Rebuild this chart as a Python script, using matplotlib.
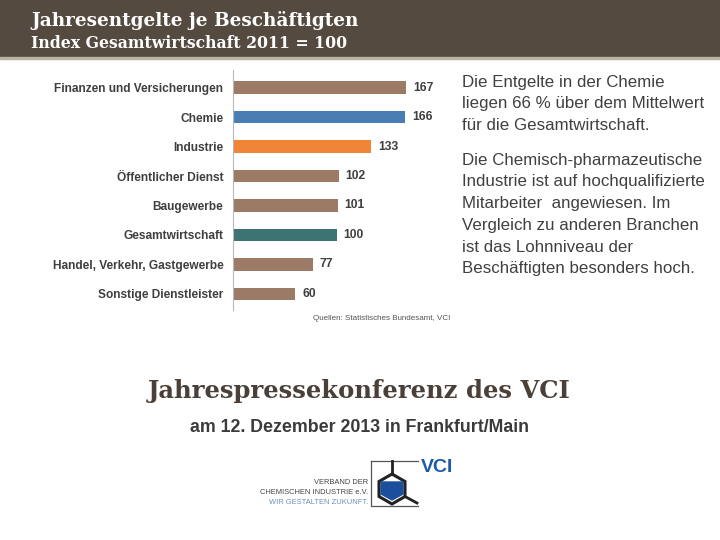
import numpy as np
import matplotlib
matplotlib.use("Agg")
import matplotlib.pyplot as plt
from matplotlib.patches import Rectangle, Polygon

plt.rcParams['font.family'] = ['Liberation Sans', 'DejaVu Sans']

# data
categories = ["Finanzen und Versicherungen", "Chemie", "Industrie",
              "Öffentlicher Dienst", "Baugewerbe", "Gesamtwirtschaft",
              "Handel, Verkehr, Gastgewerbe", "Sonstige Dienstleister"]
values = [167, 166, 133, 102, 101, 100, 77, 60]
bar_colors = ["#9c7b66", "#4a7db4", "#ef8535", "#9c7b66", "#9c7b66",
              "#3d7473", "#9c7b66", "#9c7b66"]

header_title = "Jahresentgelte je Beschäftigten"
header_sub = "Index Gesamtwirtschaft 2011 = 100"
side_par1 = ["Die Entgelte in der Chemie",
             "liegen 66 % über dem Mittelwert",
             "für die Gesamtwirtschaft."]
side_par2 = ["Die Chemisch-pharmazeutische",
             "Industrie ist auf hochqualifizierte",
             "Mitarbeiter  angewiesen. Im",
             "Vergleich zu anderen Branchen",
             "ist das Lohnniveau der",
             "Beschäftigten besonders hoch."]
source = "Quellen: Statistisches Bundesamt, VCI"

W, H = 720, 540
fig = plt.figure(figsize=(7.2, 5.4), dpi=100)
fig.patch.set_facecolor("white")

# overlay in pixel coordinates for decoration
bg = fig.add_axes([0, 0, 1, 1])
bg.set_xlim(0, W)
bg.set_ylim(H, 0)
bg.axis("off")
bg.add_patch(Rectangle((0, 0), W, 57, color="#554a40", zorder=0))
bg.add_patch(Rectangle((0, 57), W, 2, color="#b9b0a6", zorder=0))
serif = ['DejaVu Serif']
bg.text(31, 20, header_title, color="white", fontsize=13.3, fontweight="bold",
        family=serif, va="center", ha="left")
bg.text(31, 43, header_sub, color="white", fontsize=11.3, fontweight="bold",
        family=serif, va="center", ha="left")

# bar chart
ax = fig.add_axes([233 / W, 1 - 310 / H, 217 / W, 240 / H])
y = np.arange(len(categories))
ax.barh(y, values, height=0.42, color=bar_colors)
for yi, v in zip(y, values):
    ax.text(v + 6.5, yi, str(v), va="center", ha="left", fontsize=8.7,
            fontweight="bold", color="#3f3f3f")
ax.set_xlim(0, 209)
ax.set_ylim(len(categories) - 0.45, -0.6)
ax.set_yticks(y)
ax.set_yticklabels(categories, fontsize=8.6, fontweight="bold", color="#3f3f3f")
ax.tick_params(axis="y", length=0, pad=7)
ax.set_xticks([])
for s in ["top", "right", "bottom"]:
    ax.spines[s].set_visible(False)
ax.spines["left"].set_color("#b8b8b8")
ax.patch.set_alpha(0)

bg.text(450, 319, source, fontsize=5.8, color="#555555", ha="right", va="center")

# side text
for i, line in enumerate(side_par1):
    bg.text(462, 82 + i * 21.8, line, fontsize=12.2, color="#404040", va="center")
for i, line in enumerate(side_par2):
    bg.text(462, 160 + i * 21.8, line, fontsize=12.2, color="#404040", va="center")

# conference title
bg.text(359, 391, "Jahrespressekonferenz des VCI", fontsize=17.5, fontweight="bold",
        family=serif, color="#4a4039", ha="center", va="center")
bg.text(359, 428, "am 12. Dezember 2013 in Frankfurt/Main", fontsize=12.8,
        fontweight="bold", color="#3a3a3a", ha="center", va="center")

# logo
narrow = ['Liberation Sans Narrow', 'Liberation Sans']
bg.plot([371, 371, 418], [461, 506, 506], color="#555555", lw=0.9)
bg.plot([371, 418], [461, 461], color="#555555", lw=0.9)
ang = np.deg2rad(np.arange(90, 450, 60))
cx, cy, r = 392, 489, 15
hx = cx + r * np.cos(ang)
hy = cy - r * np.sin(ang)
bg.add_patch(Polygon(np.c_[hx, hy], closed=True, fill=False, ec="#222222", lw=2.2))
bg.add_patch(Polygon([[cx - 11, 482], [cx + 11, 482], [cx + 11, 494], [cx, 500],
                      [cx - 11, 494]], closed=True, color="#1b4f9c"))
bg.plot([cx, cx], [461, cy - r], color="#222222", lw=2)
bg.plot([cx + r * 0.866, 417], [cy + r * 0.5, 503], color="#222222", lw=2)
bg.text(421, 468, "VCI", fontsize=14, fontweight="bold", color="#1d5ba8",
        ha="left", va="center")
bg.text(368, 482, "VERBAND DER", fontsize=5.4, family=narrow, color="#444444",
        ha="right", va="center")
bg.text(368, 493, "CHEMISCHEN INDUSTRIE e.V.", fontsize=5.4, family=narrow,
        color="#444444", ha="right", va="center")
bg.text(368, 503, "WIR GESTALTEN ZUKUNFT.", fontsize=5.4, family=narrow,
        color="#6d8fbf", ha="right", va="center")

fig.savefig("out.png", dpi=100)
